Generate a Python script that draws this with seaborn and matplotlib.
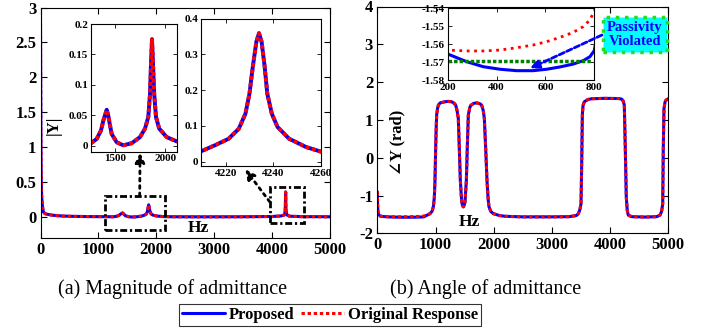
import matplotlib
matplotlib.use("Agg")
import matplotlib.pyplot as plt
from matplotlib.patches import Rectangle
from matplotlib.lines import Line2D
from matplotlib.ticker import FormatStrFormatter
import seaborn as sns

# magnitude of admittance |Y| (Hz, value)
mag_freq = [0, 2, 4, 6, 8, 10, 13, 17, 22, 30, 40, 48, 65, 90, 135, 200, 300, 395, 550, 800,
            1000, 1150, 1258, 1315, 1358, 1381, 1400, 1415, 1430, 1445, 1465, 1515, 1581, 1665,
            1748, 1798, 1831, 1848, 1858, 1868, 1878, 1890, 1908, 1940, 2015, 2115, 2300, 2800,
            3500, 4000, 4150, 4209.5, 4215.4, 4221.1, 4225.4, 4228.2, 4229.9, 4231.3, 4232.8,
            4233.9, 4235.0, 4236.3, 4237.4, 4239.3, 4241.7, 4246.6, 4253.7, 4260.5, 4300, 4500, 5000]
mag_orig = [2.86, 2.30, 1.75, 1.30, 0.95, 0.72, 0.52, 0.38, 0.27, 0.18, 0.12, 0.076, 0.058, 0.045,
            0.037, 0.027, 0.019, 0.014, 0.010, 0.007,
            0.006, 0.005, 0.004, 0.011, 0.025, 0.041, 0.051, 0.059, 0.050, 0.036, 0.019, 0.0055,
            0.0005, 0.004,
            0.014, 0.028, 0.047, 0.085, 0.135, 0.175, 0.135, 0.085, 0.047, 0.028, 0.014, 0.007,
            0.004, 0.003,
            0.004, 0.008, 0.015, 0.029, 0.046, 0.064, 0.092, 0.134, 0.19, 0.265, 0.335,
            0.359, 0.335, 0.265, 0.19, 0.134, 0.097, 0.064, 0.041, 0.027, 0.012, 0.006, 0.004]
mag_prop = [2.79] + mag_orig[1:]

# angle of admittance (rad)
ang_freq = [0, 5, 10, 20, 50, 100, 200, 278, 346, 414, 482, 550, 605, 660, 714, 755, 782, 800,
            850, 906, 940, 963, 980, 991, 1003, 1012, 1020, 1035, 1049, 1080, 1163, 1220, 1278,
            1320, 1347, 1370, 1392, 1409, 1427, 1450, 1465, 1478, 1492, 1507, 1530, 1546, 1564,
            1590, 1610, 1660, 1708, 1760, 1793, 1820, 1839, 1862, 1885, 1905, 1919, 1950, 1993,
            2100, 2194, 2500, 3000, 3300, 3420, 3454, 3480, 3500, 3512, 3523, 3535, 3557, 3620,
            3684, 3900, 4150, 4199, 4225, 4244, 4261, 4278, 4295, 4313, 4371, 4600, 4800, 4857,
            4885, 4904, 4914, 4926, 4945, 4960, 5000]
ang_orig = [-0.90, -1.20, -1.40, -1.50, -1.545, -1.556, -1.5633, -1.5638, -1.5638, -1.5633,
            -1.5620, -1.5605, -1.5586, -1.5562, -1.5534, -1.5502, -1.5465, -1.5415,
            -1.525, -1.48, -1.42, -1.30, -1.05, -0.61, 0.26, 0.80, 1.13, 1.30, 1.39, 1.45, 1.48,
            1.49, 1.48,
            1.44, 1.39, 1.25, 1.04, 0.26, -0.61, -1.17, -1.27, -1.30, -1.26, -1.17, -0.61, 0.26,
            1.13,
            1.33, 1.39, 1.44, 1.45, 1.43, 1.39, 1.25, 1.04, 0.26, -0.61, -1.10, -1.30, -1.42,
            -1.48,
            -1.53, -1.55, -1.565, -1.565, -1.56, -1.53, -1.48, -1.38, -1.22, -0.17, 1.13, 1.38,
            1.48, 1.54,
            1.56, 1.57, 1.565, 1.55, 1.50, 1.39, 0.26, -1.04, -1.40, -1.52, -1.56, -1.57, -1.56,
            -1.52,
            -1.42, -1.22, 0.26, 1.30, 1.48, 1.52, 1.56]
ang_prop = ang_orig[:6] + [-1.5655, -1.5698, -1.5726, -1.5740, -1.5748, -1.5748, -1.5740,
                           -1.5727, -1.5711, -1.5692, -1.5670, -1.5636] + ang_orig[18:]

# passivity limit in the zoomed angle plot
limit_x = [200, 785]
limit_y = [-1.5694, -1.5694]

sns.set_theme(style="ticks")
plt.rcParams["font.family"] = ["Liberation Serif", "DejaVu Serif"]
plt.rcParams["font.weight"] = "bold"
plt.rcParams["axes.unicode_minus"] = False
plt.rcParams["xtick.direction"] = "in"
plt.rcParams["ytick.direction"] = "in"
plt.rcParams["xtick.top"] = True
plt.rcParams["ytick.right"] = True
plt.rcParams["axes.linewidth"] = 0.8
plt.rcParams["axes.edgecolor"] = "black"
plt.rcParams["xtick.color"] = "black"
plt.rcParams["ytick.color"] = "black"
plt.rcParams["text.color"] = "black"

W, H = 710, 330
fig = plt.figure(figsize=(W / 100, H / 100), dpi=100)


def box(l, t, r, b):
    return [l / W, 1 - b / H, (r - l) / W, (b - t) / H]


def fx(px):
    return px / W


def fy(py):
    return 1 - py / H


def curves(ax, x, yb, yr, lw, dots):
    sns.lineplot(x=x, y=yb, ax=ax, color="#0000ff", lw=lw, estimator=None, sort=False)
    sns.lineplot(x=x, y=yr, ax=ax, color="#ff0000", lw=lw, ls=dots, estimator=None, sort=False)
    ax.set_xlabel("")
    ax.set_ylabel("")
    ax.yaxis.set_major_formatter(FormatStrFormatter("%g"))


ax1 = fig.add_axes(box(40.5, 7.5, 330, 238))
ax2 = fig.add_axes(box(377.3, 6.5, 668.3, 233.3))
in1 = fig.add_axes(box(91, 24, 176.7, 151.7))
in2 = fig.add_axes(box(201, 18.5, 321, 166))
in3 = fig.add_axes(box(447.7, 8.3, 594.3, 80))

# (a) magnitude
curves(ax1, mag_freq, mag_prop, mag_orig, 2.2, (0, (1.1, 0.9)))
ax1.set_xlim(0, 5000)
ax1.set_ylim(-0.3, 3)
ax1.set_xticks(range(0, 5001, 1000))
ax1.set_yticks([0, 0.5, 1, 1.5, 2, 2.5, 3])
ax1.tick_params(labelsize=12, length=4, width=0.8, pad=3)

ax1.add_patch(Rectangle((1116, -0.186), 1026, 0.491, fill=False, ls=(0, (2.5, 1, 0.8, 1)),
                        lw=2, ec="black", zorder=5))
ax1.add_patch(Rectangle((3958, -0.09), 589, 0.524, fill=False, ls=(0, (2.5, 1, 0.8, 1)),
                        lw=2, ec="black", zorder=5))
ax1.annotate("", xy=(1720, 0.92), xytext=(1713, 0.305),
             arrowprops=dict(arrowstyle="-|>", ls=":", lw=2, color="black", mutation_scale=14,
                             shrinkA=0, shrinkB=0), annotation_clip=False)
ax1.annotate("", xy=(3538, 0.683), xytext=(3958, 0.219),
             arrowprops=dict(arrowstyle="-|>", ls=":", lw=2, color="black", mutation_scale=14,
                             shrinkA=0, shrinkB=0), annotation_clip=False)

curves(in1, mag_freq, mag_prop, mag_orig, 2.8, (0, (1.0, 0.7)))
in1.set_xlim(1258, 2115)
in1.set_ylim(-0.01, 0.2)
in1.set_xticks([1500, 2000])
in1.set_yticks([0, 0.05, 0.1, 0.15, 0.2])
in1.tick_params(labelsize=8, length=3, width=0.6, pad=2)

curves(in2, mag_freq, mag_prop, mag_orig, 2.8, (0, (1.0, 0.7)))
in2.set_xlim(4209.5, 4260)
in2.set_ylim(-0.012, 0.4)
in2.set_xticks([4220, 4240, 4260])
in2.set_yticks([0, 0.1, 0.2, 0.3, 0.4])
in2.tick_params(labelsize=8, length=3, width=0.6, pad=2)

# (b) angle
curves(ax2, ang_freq, ang_prop, ang_orig, 2.2, (0, (1.1, 0.9)))
ax2.set_xlim(0, 5000)
ax2.set_ylim(-2, 4)
ax2.set_xticks(range(0, 5001, 1000))
ax2.set_yticks(range(-2, 5))
ax2.tick_params(labelsize=12, length=4, width=0.8, pad=3)

sns.lineplot(x=ang_freq, y=ang_prop, ax=in3, color="#0000ff", lw=2.2, estimator=None, sort=False)
sns.lineplot(x=ang_freq, y=ang_orig, ax=in3, color="#ff0000", lw=2, ls=":", estimator=None,
             sort=False)
sns.lineplot(x=limit_x, y=limit_y, ax=in3, color="#008000", lw=2.5, ls=(0, (1, 0.6)),
             estimator=None, sort=False)
in3.set_xlabel("")
in3.set_ylabel("")
in3.set_xlim(200, 800)
in3.set_ylim(-1.58, -1.54)
in3.set_xticks([200, 400, 600, 800])
in3.set_yticks([-1.58, -1.57, -1.56, -1.55, -1.54])
in3.yaxis.set_major_formatter(FormatStrFormatter("%g"))
in3.tick_params(labelsize=8, length=3, width=0.6, pad=2)
in3.annotate("", xy=(537, -1.5735), xytext=(fx(602), fy(35)), textcoords="figure fraction",
             arrowprops=dict(arrowstyle="-|>", ls=(0, (2, 1)), lw=2, color="#0000ff",
                             mutation_scale=13, shrinkA=0, shrinkB=0), annotation_clip=False)

fig.text(fx(635), fy(34.5), "Passivity\nViolated", ha="center", va="center", color="#0000ff",
         fontsize=10.5, weight="bold", linespacing=1.05,
         bbox=dict(boxstyle="square,pad=0.28", fc="#00ffff", ec="#22dd22", lw=2.5, ls=":"))

# axis labels placed inside the panels
fig.text(fx(198), fy(228), "Hz", ha="center", va="center", fontsize=12.5, weight="bold")
fig.text(fx(469), fy(222), "Hz", ha="center", va="center", fontsize=12.5, weight="bold")
fig.text(fx(53.5), fy(125), "|Y|", ha="center", va="center", rotation=90, fontsize=12,
         weight="bold")
fig.text(fx(397.7), fy(142.5), "∠Y (rad)", ha="center", va="center", rotation=90, fontsize=12,
         weight="bold")

fig.text(fx(172.5), fy(289), "(a) Magnitude of admittance", ha="center", va="center",
         fontsize=14.5, weight="normal")
fig.text(fx(486), fy(289), "(b) Angle of admittance", ha="center", va="center",
         fontsize=14.5, weight="normal")

handles = [Line2D([], [], color="#0000ff", lw=2.2),
           Line2D([], [], color="#ff0000", lw=2.2, ls=(0, (1.1, 0.9)))]
leg = fig.legend(handles, ["Proposed", "Original Response"], loc="center",
                 bbox_to_anchor=(fx(330), fy(315)), ncol=2, frameon=True, fancybox=False,
                 edgecolor="black", prop=dict(family="Liberation Serif", weight="bold", size=12),
                 handlelength=2.6, handletextpad=0.2, columnspacing=0.4, borderpad=0.2,
                 borderaxespad=0)
leg.get_frame().set_linewidth(0.8)

fig.savefig("out.png", dpi=100)
